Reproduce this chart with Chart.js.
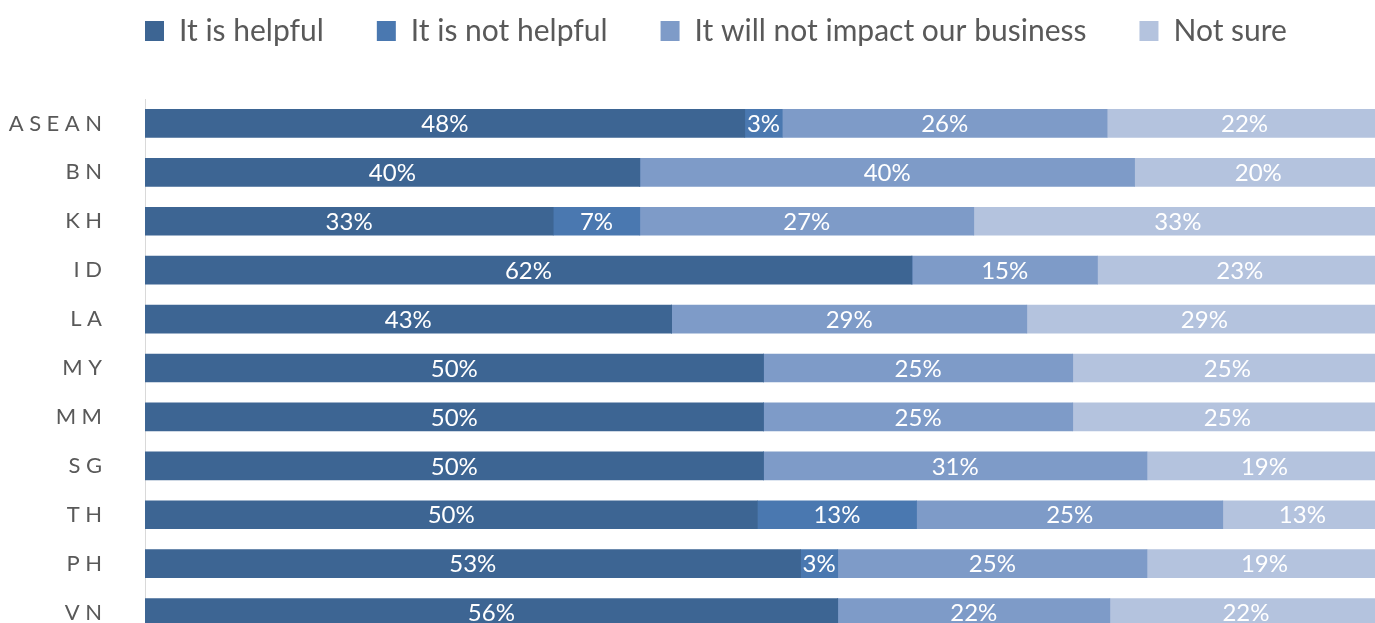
<!DOCTYPE html>
<html>
<head>
<meta charset="utf-8">
<script src="https://cdn.jsdelivr.net/npm/chart.js@4.4.1/dist/chart.umd.min.js"></script>
<style>
  html, body { margin: 0; padding: 0; background: #fff; overflow: hidden; }
  canvas { display: block; }
</style>
</head>
<body>
<canvas id="chart" width="1382" height="637" style="width:1382px;height:637px"></canvas>
<script>
// survey answers per market, in percent (as printed on the bars)
const categories = ['ASEAN', 'BN', 'KH', 'ID', 'LA', 'MY', 'MM', 'SG', 'TH', 'PH', 'VN'];
const seriesNames = ['It is helpful', 'It is not helpful', 'It will not impact our business', 'Not sure'];
const helpful    = [48, 40, 33, 62, 43, 50, 50, 50, 50, 53, 56];
const notHelpful = [3, 0, 7, 0, 0, 0, 0, 0, 13, 3, 0];
const noImpact   = [26, 40, 27, 15, 29, 25, 25, 31, 25, 25, 22];
const notSure    = [22, 20, 33, 23, 29, 25, 25, 19, 13, 19, 22];

const colors = ['#3d6593', '#4a78b0', '#7e9bc8', '#b4c3de'];
const series = [helpful, notHelpful, noImpact, notSure];

// 100% stacked: each row is scaled to its own total
const rowTotals = categories.map((_, i) => series.reduce((s, arr) => s + arr[i], 0));

const datasets = series.map((values, k) => ({
  label: seriesNames[k],
  data: values.map((v, i) => v / rowTotals[i] * 100),
  shown: values,
  backgroundColor: colors[k],
  borderWidth: 0,
  barThickness: 28
}));

const segmentLabels = {
  id: 'segmentLabels',
  beforeLayout(chart) {
    const legend = chart.legend;
    if (legend && !legend._patched) {
      const fit = legend.fit;
      legend.fit = function () { fit.call(this); this.height = 99; };
      legend._patched = true;
    }
  },
  afterLayout(chart) {
    // line the legend up with the plot's left edge, near the top
    const legend = chart.legend;
    legend.left = 92;
    legend.top = -37;
  },
  afterDatasetsDraw(chart) {
    const ctx = chart.ctx;
    ctx.save();
    ctx.font = '24px Lato';
    ctx.fillStyle = '#ffffff';
    ctx.textAlign = 'center';
    ctx.textBaseline = 'middle';
    chart.data.datasets.forEach((ds, di) => {
      chart.getDatasetMeta(di).data.forEach((bar, i) => {
        const v = ds.shown[i];
        if (!v) return;
        ctx.fillText(v + '%', (bar.x + bar.base) / 2, bar.y + 1);
      });
    });
    ctx.restore();
  }
};

new Chart(document.getElementById('chart'), {
  type: 'bar',
  data: { labels: categories, datasets: datasets },
  options: {
    indexAxis: 'y',
    responsive: false,
    animation: false,
    layout: { padding: 0 },
    plugins: {
      tooltip: { enabled: false },
      legend: {
        position: 'top',
        align: 'start',
        labels: {
          boxWidth: 19,
          boxHeight: 20,
          padding: 53,
          color: '#595959',
          font: { family: 'Lato', size: 30 }
        }
      }
    },
    scales: {
      x: {
        stacked: true,
        display: false,
        min: 0,
        max: 100
      },
      y: {
        stacked: true,
        afterFit(scale) {
          scale.width = 145;
          scale.paddingTop = 0;
          scale.paddingBottom = 0;
        },
        grid: { display: false },
        border: { display: true, color: '#d9d9d9', width: 1 },
        ticks: {
          padding: 35,
          color: '#595959',
          font: { family: 'Lato', size: 22 },
          callback(value) { return categories[value].split('').join('\u2005'); }
        }
      }
    }
  },
  plugins: [segmentLabels]
});
</script>
</body>
</html>
